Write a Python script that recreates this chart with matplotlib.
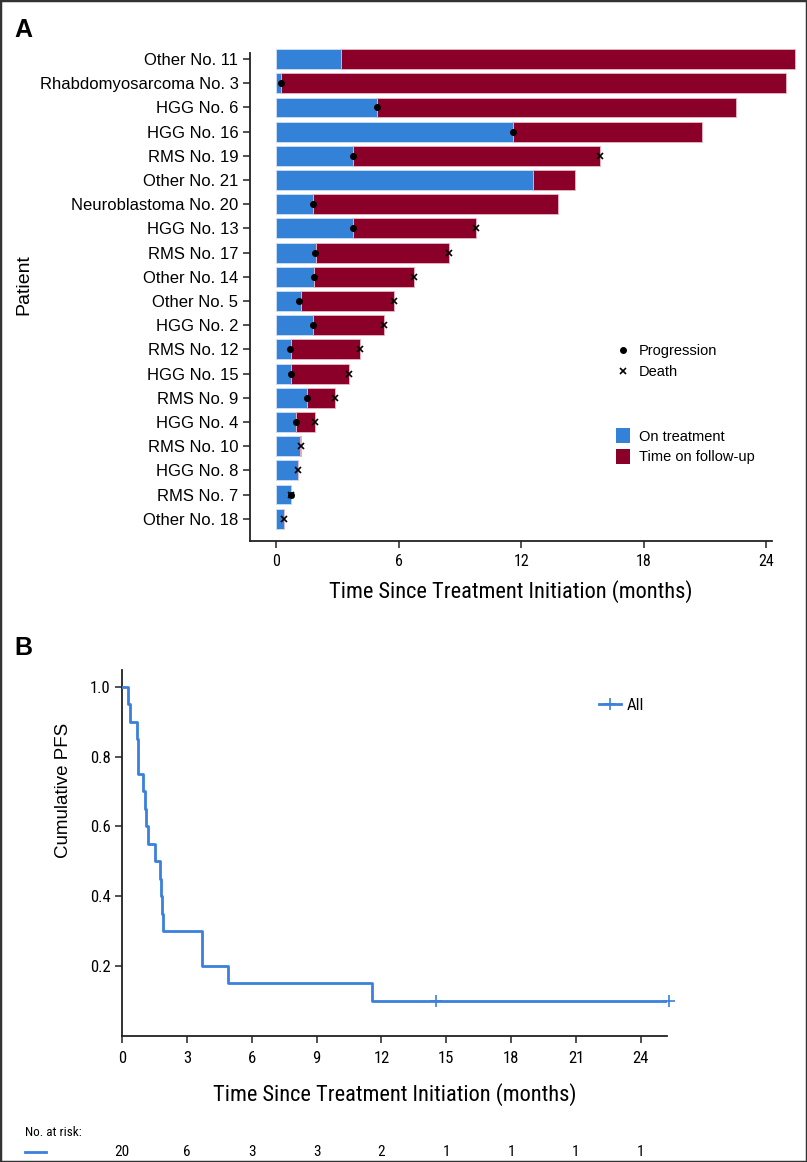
import matplotlib
matplotlib.use("Agg")
import matplotlib.pyplot as plt
from matplotlib import font_manager as fm
from matplotlib.patches import Patch, Rectangle
from matplotlib.lines import Line2D
from matplotlib.transforms import blended_transform_factory

# ---------------- data ----------------
patients = ["Other No. 11", "Rhabdomyosarcoma No. 3", "HGG No. 6", "HGG No. 16",
            "RMS No. 19", "Other No. 21", "Neuroblastoma No. 20", "HGG No. 13",
            "RMS No. 17", "Other No. 14", "Other No. 5", "HGG No. 2", "RMS No. 12",
            "HGG No. 15", "RMS No. 9", "HGG No. 4", "RMS No. 10", "HGG No. 8",
            "RMS No. 7", "Other No. 18"]
treat_end = [3.15, 0.25, 4.92, 11.6, 3.73, 12.57, 1.8, 3.73, 1.95, 1.85,
             1.23, 1.8, 0.72, 0.72, 1.5, 0.94, 1.18, 1.07, 0.72, 0.38]
total_time = [25.4, 24.95, 22.5, 20.85, 15.83, 14.6, 13.8, 9.8, 8.47, 6.76,
              5.74, 5.27, 4.09, 3.54, 2.86, 1.9, 1.22, 1.07, 0.72, 0.38]
progression = [None, 0.25, 4.92, 11.6, 3.73, None, 1.77, 3.73, 1.9, 1.85,
               1.09, 1.8, 0.67, 0.7, 1.5, 0.94, None, None, 0.7, None]
death = [None, None, None, None, 15.83, None, None, 9.8, 8.47, 6.76,
         5.74, 5.27, 4.09, 3.54, 2.86, 1.9, 1.2, 1.07, 0.7, 0.38]

km_time = [0, 0.25, 0.38, 0.67, 0.71, 0.94, 1.07, 1.1, 1.19, 1.5, 1.77, 1.81,
           1.86, 1.9, 3.7, 4.9, 11.55, 25.3]
km_surv = [1.0, 0.95, 0.90, 0.85, 0.75, 0.70, 0.65, 0.60, 0.55, 0.50, 0.45,
           0.40, 0.35, 0.30, 0.20, 0.15, 0.10, 0.10]
censor_time = [14.5, 25.3]
censor_surv = [0.10, 0.10]

a_xticks = [0, 6, 12, 18, 24]
b_xticks = [0, 3, 6, 9, 12, 15, 18, 21, 24]
b_yticks = [0.2, 0.4, 0.6, 0.8, 1.0]
at_risk = [20, 6, 3, 3, 2, 1, 1, 1, 1]

# ---------------- fonts ----------------
REG = ["Liberation Sans", "DejaVu Sans"]
plt.rcParams["font.family"] = REG


def find_narrow():
    cands = [("Liberation Sans Narrow", "normal", "narrow"),
             ("Roboto Condensed", "normal", "condensed"),
             ("Noto Sans", "condensed", "condensed"),
             ("DejaVu Sans", "condensed", "condensed"),
             ("Open Sans", "condensed", "condensed"),
             ("Noto Sans", "semi-condensed", "condensed")]
    for fam, stretch, key in cands:
        try:
            path = fm.findfont(fm.FontProperties(family=fam, stretch=stretch),
                               fallback_to_default=False)
        except Exception:
            continue
        if key in path.lower().replace("-", "").replace("_", "") or key in path.lower():
            return path
    try:
        return fm.findfont(fm.FontProperties(family="Roboto"), fallback_to_default=False)
    except Exception:
        return fm.findfont(fm.FontProperties(family="DejaVu Sans"))


NARROW_PATH = find_narrow()


def nar(size):
    return fm.FontProperties(fname=NARROW_PATH, size=size)


# ---------------- style ----------------
BLUE = "#3481d8"
RED = "#8a0029"
KMBLUE = "#3a80dc"

fig = plt.figure(figsize=(8.07, 11.62), dpi=100)

# ---------------- panel A ----------------
axA = fig.add_axes([0.3093, 0.5344, 0.6473, 0.4200])
ypos = list(range(len(patients)))
follow = [t - s for t, s in zip(total_time, treat_end)]
axA.barh(ypos, treat_end, height=0.82, color=BLUE, edgecolor="#cfe0f5",
         linewidth=0.6, clip_on=False, zorder=2)
axA.barh(ypos, follow, left=treat_end, height=0.82, color=RED,
         edgecolor="#e8b8c4", linewidth=0.6, clip_on=False, zorder=2)
for i in ypos:
    if progression[i] is not None:
        axA.plot(progression[i], i, "o", color="black", ms=4, zorder=4, clip_on=False)
    if death[i] is not None:
        axA.plot(death[i], i, "x", color="black", ms=5, mew=1.2, zorder=4, clip_on=False)

axA.set_xlim(-1.31, 24.27)
axA.set_ylim(19.92, -0.25)
axA.set_yticks(ypos)
axA.set_yticklabels(patients, fontsize=12)
axA.set_xticks(a_xticks)
axA.set_xticklabels([str(v) for v in a_xticks], fontproperties=nar(11.5))
axA.spines["top"].set_visible(False)
axA.spines["right"].set_visible(False)
for s in ("left", "bottom"):
    axA.spines[s].set_linewidth(1.3)
    axA.spines[s].set_color("#222222")
axA.tick_params(axis="both", direction="out", length=5, width=1.1, color="#222222")
axA.tick_params(axis="y", pad=3)
axA.tick_params(axis="x", pad=4)
xlabA = axA.set_xlabel("Time Since Treatment Initiation (months)",
                       fontproperties=nar(17), labelpad=8)
axA.set_ylabel("Patient", fontsize=14)
axA.yaxis.set_label_coords(-0.415, 0.525)

leg1 = axA.legend(handles=[
    Line2D([], [], marker="o", ls="none", color="black", ms=4),
    Line2D([], [], marker="x", ls="none", color="black", ms=5, mew=1.2)],
    labels=["Progression", "Death"], frameon=False, fontsize=10.5,
    loc="upper left", bbox_to_anchor=(0.69, 0.415), handlelength=1.0,
    handletextpad=0.6, labelspacing=0.45, borderaxespad=0)
axA.add_artist(leg1)
axA.legend(handles=[Patch(facecolor=BLUE), Patch(facecolor=RED)],
           labels=["On treatment", "Time on follow-up"], frameon=False,
           fontsize=10.5, loc="upper left", bbox_to_anchor=(0.69, 0.243),
           handlelength=1.0, handleheight=1.2, handletextpad=0.6,
           labelspacing=0.35, borderaxespad=0)

# ---------------- panel B ----------------
axB = fig.add_axes([0.1515, 0.1087, 0.6746, 0.3147])
axB.step(km_time, km_surv, where="post", color=KMBLUE, lw=2, zorder=3)
axB.plot(censor_time, censor_surv, "+", color=KMBLUE, ms=8, mew=1.2, zorder=4,
         clip_on=False)
axB.set_xlim(0, 25.2)
axB.set_ylim(0, 1.048)
axB.set_xticks(b_xticks)
axB.set_xticklabels([str(v) for v in b_xticks], fontproperties=nar(12))
axB.set_yticks(b_yticks)
axB.set_yticklabels(["%.1f" % v for v in b_yticks], fontproperties=nar(12))
axB.spines["top"].set_visible(False)
axB.spines["right"].set_visible(False)
for s in ("left", "bottom"):
    axB.spines[s].set_linewidth(1.3)
    axB.spines[s].set_color("#222222")
axB.tick_params(axis="both", direction="out", length=5, width=1.1, color="#222222")
axB.tick_params(axis="x", pad=6)
xlabB = axB.set_xlabel("Time Since Treatment Initiation (months)",
                       fontproperties=nar(17), labelpad=12)
ylabB = axB.set_ylabel("Cumulative PFS", fontsize=13.5)
axB.yaxis.set_label_coords(-0.092, 0.672)
axB.legend(handles=[Line2D([], [], color=KMBLUE, lw=2, marker="+", ms=8, mew=1.2)],
           labels=["All"], frameon=False, loc="upper left",
           bbox_to_anchor=(0.848, 0.965), handlelength=1.3, handletextpad=0.35,
           prop=nar(12))

# number at risk
fig.text(25 / 807, 1 - 1133 / 1162, "No. at risk:", fontproperties=nar(9.5),
         va="center", ha="left")
fig.add_artist(Line2D([25 / 807, 46 / 807], [1 - 1152 / 1162, 1 - 1152 / 1162],
                      color=KMBLUE, lw=2, transform=fig.transFigure))
trans = blended_transform_factory(axB.transData, fig.transFigure)
for xv, n in zip(b_xticks, at_risk):
    axB.text(xv, 1 - 1152 / 1162, str(n), transform=trans, ha="center",
             va="center", fontproperties=nar(11), clip_on=False)

# panel labels and frame
fig.text(14 / 807, 1 - 30 / 1162, "A", fontsize=18, fontweight="bold",
         va="center", ha="left")
fig.text(14 / 807, 1 - 648 / 1162, "B", fontsize=18, fontweight="bold",
         va="center", ha="left")
fig.patches.append(Rectangle((0, 0), 1, 1, transform=fig.transFigure, fill=False,
                             ec="#333333", lw=2.5))

# fit the axis titles to the reference width (about 362 px)
fig.canvas.draw()
r = fig.canvas.get_renderer()
for lab in (xlabA, xlabB):
    w = lab.get_window_extent(r).width
    if w > 0:
        lab.set_fontsize(lab.get_fontsize() * 362.0 / w)

fig.savefig("out.png", dpi=100)
